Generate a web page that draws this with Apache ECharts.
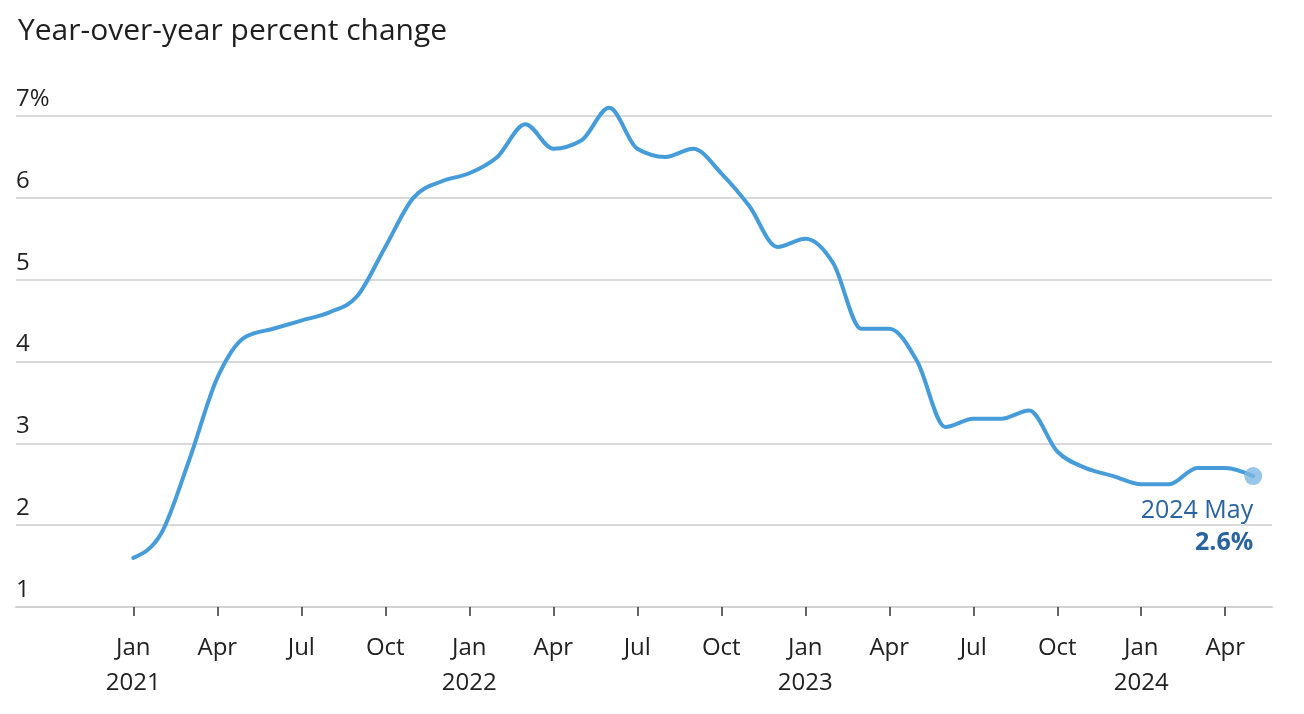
<!DOCTYPE html>
<html>
<head>
<meta charset="utf-8">
<script src="https://cdn.jsdelivr.net/npm/echarts@6/dist/echarts.min.js"></script>
<style>
html,body{margin:0;padding:0;background:#fff;}
#chart{width:1304px;height:714px;}
</style>
</head>
<body>
<div id="chart"></div>
<script>
// Months from Jan 2021 to May 2024
const categories = [
  '2021-01','2021-02','2021-03','2021-04','2021-05','2021-06','2021-07','2021-08','2021-09','2021-10','2021-11','2021-12',
  '2022-01','2022-02','2022-03','2022-04','2022-05','2022-06','2022-07','2022-08','2022-09','2022-10','2022-11','2022-12',
  '2023-01','2023-02','2023-03','2023-04','2023-05','2023-06','2023-07','2023-08','2023-09','2023-10','2023-11','2023-12',
  '2024-01','2024-02','2024-03','2024-04','2024-05'
];
// Year-over-year percent change
const values = [
  1.6, 1.9, 2.8, 3.8, 4.3, 4.4, 4.5, 4.6, 4.8, 5.4, 6.0, 6.2,
  6.3, 6.5, 6.9, 6.6, 6.7, 7.1, 6.6, 6.5, 6.6, 6.3, 5.9, 5.4,
  5.5, 5.2, 4.4, 4.4, 4.0, 3.2, 3.3, 3.3, 3.4, 2.9, 2.7, 2.6,
  2.5, 2.5, 2.7, 2.7, 2.6
];
const monthNames = ['Jan','Feb','Mar','Apr','May','Jun','Jul','Aug','Sep','Oct','Nov','Dec'];
const tickMonths = ['Jan','Apr','Jul','Oct'];
const yTicks = [1, 2, 3, 4, 5, 6, 7];
const titleText = 'Year-over-year percent change';

const tickIdx = categories.map((c, i) => i).filter(i => tickMonths.includes(monthNames[+categories[i].slice(5) - 1]));
const seriesData = values.map((v, i) => [i, v]);
const last = seriesData.length - 1;
const lastCat = categories[last];
const lastLabel = lastCat.slice(0, 4) + ' ' + monthNames[+lastCat.slice(5) - 1];

const LINE_COLOR = '#469cd8';
const LABEL_COLOR = '#2a649e';
const FONT = 'Open Sans';

// Monotone-X cubic path (same construction as d3.curveMonotoneX) through the pixel positions
function sign(v) { return v < 0 ? -1 : 1; }
function monotonePath(pts) {
  const n = pts.length;
  const t = new Array(n).fill(0);
  for (let i = 1; i < n - 1; i++) {
    const h0 = pts[i][0] - pts[i - 1][0], h1 = pts[i + 1][0] - pts[i][0];
    const s0 = (pts[i][1] - pts[i - 1][1]) / h0, s1 = (pts[i + 1][1] - pts[i][1]) / h1;
    const p = (s0 * h1 + s1 * h0) / (h0 + h1);
    t[i] = (sign(s0) + sign(s1)) * Math.min(Math.abs(s0), Math.abs(s1), 0.5 * Math.abs(p)) || 0;
  }
  const h = pts[1][0] - pts[0][0];
  t[0] = (3 * (pts[1][1] - pts[0][1]) / h - t[1]) / 2;
  const hl = pts[n - 1][0] - pts[n - 2][0];
  t[n - 1] = (3 * (pts[n - 1][1] - pts[n - 2][1]) / hl - t[n - 2]) / 2;
  let d = 'M' + pts[0][0] + ' ' + pts[0][1];
  for (let i = 0; i < n - 1; i++) {
    const dx = (pts[i + 1][0] - pts[i][0]) / 3;
    d += ' C' + (pts[i][0] + dx) + ' ' + (pts[i][1] + dx * t[i]) + ' ' +
         (pts[i + 1][0] - dx) + ' ' + (pts[i + 1][1] - dx * t[i + 1]) + ' ' +
         pts[i + 1][0] + ' ' + pts[i + 1][1];
  }
  return d;
}

const chart = echarts.init(document.getElementById('chart'), null, {renderer: 'canvas'});
chart.setOption({
  animation: false,
  backgroundColor: '#fff',
  title: {
    text: titleText,
    left: 13, top: 11,
    textStyle: {fontFamily: FONT, fontSize: 30, fontWeight: 'normal', color: '#1f1f1f'}
  },
  grid: {left: 16, right: 32, top: 116, bottom: 107},
  xAxis: {
    type: 'value',
    min: -4.19, max: 40.67,
    splitLine: {show: false},
    axisLine: {show: true, lineStyle: {color: '#d0d0d0', width: 2}},
    axisTick: {show: true, customValues: tickIdx, length: 9, lineStyle: {color: '#333', width: 1.5}},
    axisLabel: {
      customValues: tickIdx,
      margin: 24,
      fontFamily: FONT, fontSize: 24, color: '#222', lineHeight: 35,
      formatter: function (v) {
        const i = Math.round(v);
        const c = categories[i];
        const m = +c.slice(5) - 1;
        return monthNames[m] + (m === 0 ? '\n' + c.slice(0, 4) : '');
      }
    }
  },
  yAxis: {
    type: 'value',
    min: 1, max: 7, interval: 1,
    axisLine: {show: false},
    axisTick: {show: false},
    splitLine: {show: true, lineStyle: {color: '#d9d9d9', width: 2}},
    axisLabel: {
      inside: true, margin: 0,
      verticalAlign: 'bottom',
      padding: [0, 0, 5, 0],
      fontFamily: FONT, fontSize: 24, color: '#222',
      formatter: function (v) { return v === yTicks[yTicks.length - 1] ? v + '%' : String(v); }
    }
  },
  series: [
    {
      type: 'custom',
      name: 'PCE',
      data: seriesData,
      encode: {x: 0, y: 1},
      clip: false,
      z: 2,
      renderItem: function (params, api) {
        if (params.dataIndex !== 0) return null;
        const pts = seriesData.map(d => api.coord(d));
        return {
          type: 'path',
          shape: {pathData: monotonePath(pts)},
          style: {fill: null, stroke: LINE_COLOR, lineWidth: 4, lineCap: 'round', lineJoin: 'round'}
        };
      }
    },
    {
      type: 'scatter',
      data: [seriesData[last]],
      symbolSize: 18,
      itemStyle: {color: '#7db8e4'},
      z: 3,
      label: {
        show: true,
        position: [9, 28],
        align: 'right',
        verticalAlign: 'top',
        opacity: 1,
        formatter: function (p) { return '{a|' + lastLabel + '}\n{b|' + p.value[1].toFixed(1) + '%}'; },
        rich: {
          a: {fontFamily: FONT, fontSize: 25, color: LABEL_COLOR, lineHeight: 32, align: 'right', textBorderColor: '#fff', textBorderWidth: 1},
          b: {fontFamily: FONT, fontSize: 25, fontWeight: 'bold', color: LABEL_COLOR, lineHeight: 32, align: 'right', textBorderColor: '#fff', textBorderWidth: 1}
        }
      }
    }
  ]
});
</script>
</body>
</html>
